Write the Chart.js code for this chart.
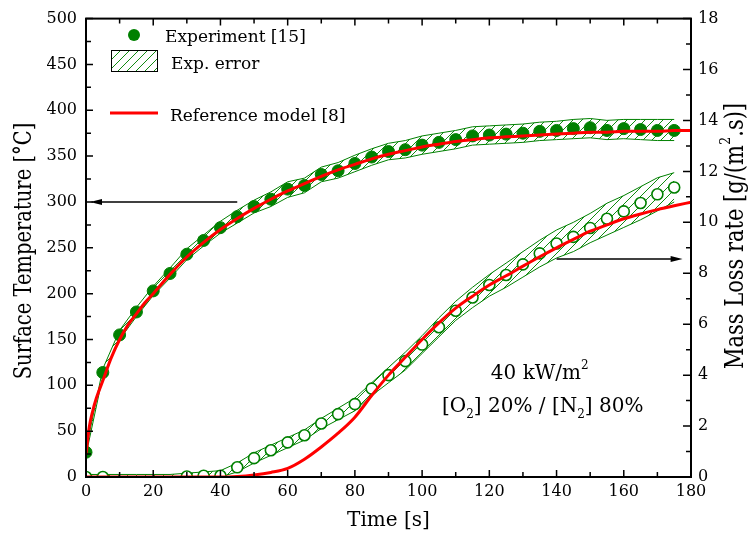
<!DOCTYPE html>
<html>
<head>
<meta charset="utf-8">
<title>Surface temperature and mass loss rate</title>
<script src="https://cdn.jsdelivr.net/npm/chart.js@4.4.1/dist/chart.umd.min.js"></script>
<style>
  html, body { margin: 0; padding: 0; background: #fff; }
  #wrap { width: 749px; height: 533px; }
</style>
</head>
<body>
<div id="wrap"><canvas id="chart" width="749" height="533"></canvas></div>
<script>
// measured points, every 5 s
const timeExp = [0, 5, 10, 15, 20, 25, 30, 35, 40, 45, 50, 55, 60, 65, 70, 75, 80, 85,
  90, 95, 100, 105, 110, 115, 120, 125, 130, 135, 140, 145, 150, 155, 160, 165, 170, 175];
const tempExp = [27, 114, 155, 180, 203, 222, 243, 258, 272, 284, 295, 303, 314, 318, 330, 334, 342, 349,
  355, 357, 362, 365, 368, 372, 373, 374, 375, 377, 378, 380, 381, 378, 380, 379, 378, 378];
const tempErrHigh = [30, 118, 160, 185, 208, 228, 249, 264, 279, 291, 302, 311, 322, 326, 338, 343, 351, 358,
  364, 367, 372, 375, 378, 382, 383, 384, 385, 387, 388, 390, 391, 389, 390, 390, 390, 390];
const tempErrLow = [24, 110, 150, 175, 198, 217, 237, 252, 266, 277, 288, 295, 305, 310, 322, 326, 333, 340,
  346, 348, 352, 355, 358, 362, 363, 364, 365, 367, 368, 369, 370, 368, 369, 368, 367, 367];
const mlrExp = [0, 0, null, null, null, null, 0.02, 0.05, 0.05, 0.38, 0.74, 1.05, 1.36, 1.64, 2.1, 2.47, 2.86, 3.47,
  4.0, 4.55, 5.2, 5.88, 6.53, 7.05, 7.54, 7.93, 8.35, 8.78, 9.17, 9.43, 9.78, 10.14, 10.43, 10.76, 11.1, 11.37];
const mlrErrHigh = [0.1, 0.1, 0.1, 0.1, 0.1, 0.1, 0.15, 0.2, 0.25, 0.55, 0.95, 1.25, 1.55, 1.85, 2.3, 2.7, 3.1, 3.7,
  4.3, 4.9, 5.55, 6.25, 6.9, 7.45, 7.95, 8.4, 8.85, 9.3, 9.7, 10.0, 10.35, 10.75, 11.05, 11.4, 11.75, 11.95];
const mlrErrLow = [0, 0, 0, 0, 0, 0, 0, 0, 0, 0.2, 0.55, 0.85, 1.15, 1.45, 1.9, 2.25, 2.6, 3.2,
  3.7, 4.2, 4.85, 5.5, 6.15, 6.65, 7.1, 7.45, 7.85, 8.25, 8.6, 8.85, 9.2, 9.5, 9.8, 10.1, 10.45, 10.8];

// reference model curves
const timeModel = [0, 1, 2, 3, 5, 7.5, 10, 12.5, 15, 17.5, 20, 25, 30, 35, 40, 45, 50, 55, 60, 65, 70, 75, 80, 85,
  90, 95, 100, 105, 110, 115, 120, 125, 130, 135, 140, 145, 150, 155, 160, 165, 170, 175, 180];
const tempModel = [25, 55, 72, 85, 105, 130, 150, 166, 178, 190, 200, 221, 240, 256, 270, 282, 293, 303, 312, 320, 328, 335, 341, 347,
  352, 356, 360, 363, 366, 368, 370, 371, 372, 373, 374, 375, 376, 376, 377, 377, 377, 378, 378];
const mlrModel = [0, 0, 0, 0, 0, 0, 0, 0, 0, 0, 0, 0, 0, 0, 0, 0.02, 0.08, 0.18, 0.34, 0.7, 1.18, 1.72, 2.35, 3.2,
  4.0, 4.7, 5.4, 6.05, 6.63, 7.1, 7.54, 7.9, 8.28, 8.65, 9.0, 9.33, 9.65, 9.9, 10.14, 10.33, 10.5, 10.65, 10.79];

const GREEN = '#008000';
const RED = '#ff0000';
const SERIF = '"DejaVu Serif", serif';

function pts(xs, ys) {
  return xs.map((t, i) => ({ x: t, y: ys[i] }));
}

// diagonal hatch used for the error bands
function hatchPattern() {
  const c = document.createElement('canvas');
  c.width = 9; c.height = 9;
  const g = c.getContext('2d');
  g.strokeStyle = '#118a11';
  g.lineWidth = 1;
  g.beginPath();
  g.moveTo(0, 9); g.lineTo(9, 0);
  g.moveTo(-1, 1); g.lineTo(1, -1);
  g.moveTo(8, 10); g.lineTo(10, 8);
  g.stroke();
  return g.createPattern(c, 'repeat');
}
const hatch = hatchPattern();

// text with sub/superscript pieces: [text, shift] where shift is 'sup', 'sub' or undefined
function runsWidth(ctx, runs, size) {
  let w = 0;
  runs.forEach(([t, s]) => {
    ctx.font = (s ? Math.round(size * 0.62) : size) + 'px ' + SERIF;
    w += ctx.measureText(t).width;
  });
  return w;
}
function drawRuns(ctx, runs, x, y, size, align) {
  let cx = align === 'center' ? x - runsWidth(ctx, runs, size) / 2 : x;
  ctx.textAlign = 'left';
  ctx.textBaseline = 'alphabetic';
  runs.forEach(([t, s]) => {
    ctx.font = (s ? Math.round(size * 0.62) : size) + 'px ' + SERIF;
    const dy = s === 'sup' ? -size * 0.5 : s === 'sub' ? size * 0.28 : 0;
    ctx.fillText(t, cx, y + dy);
    cx += ctx.measureText(t).width;
  });
}

function arrow(ctx, x0, y0, x1, y1) {
  const dir = Math.sign(x1 - x0);
  ctx.beginPath();
  ctx.moveTo(x0, y0); ctx.lineTo(x1 - dir * 8, y1);
  ctx.stroke();
  ctx.beginPath();
  ctx.moveTo(x1, y1);
  ctx.lineTo(x1 - dir * 12, y1 - 3);
  ctx.lineTo(x1 - dir * 12, y1 + 3);
  ctx.closePath();
  ctx.fill();
}

const decor = {
  id: 'decor',
  afterDraw(chart) {
    const { ctx, chartArea: a, scales } = chart;
    const x = scales.x, y = scales.y, y1 = scales.y1;
    ctx.save();
    ctx.fillStyle = '#000';
    ctx.strokeStyle = '#000';

    // inward ticks on all four sides
    ctx.lineWidth = 1.5;
    ctx.beginPath();
    for (let v = 0; v <= 180; v += 10) {
      const px = x.getPixelForValue(v), len = v % 20 ? 5 : 7;
      ctx.moveTo(px, a.bottom); ctx.lineTo(px, a.bottom - len);
      ctx.moveTo(px, a.top); ctx.lineTo(px, a.top + len);
    }
    for (let v = 0; v <= 500; v += 25) {
      const py = y.getPixelForValue(v), len = v % 50 ? 5 : 7;
      ctx.moveTo(a.left, py); ctx.lineTo(a.left + len, py);
    }
    for (let v = 0; v <= 18; v += 1) {
      const py = y1.getPixelForValue(v), len = v % 2 ? 5 : 8;
      ctx.moveTo(a.right, py); ctx.lineTo(a.right - len, py);
    }
    ctx.stroke();

    // frame
    ctx.lineWidth = 2;
    ctx.strokeRect(a.left, a.top, a.right - a.left, a.bottom - a.top);

    // axis titles
    ctx.save();
    ctx.translate(31, 251);
    ctx.rotate(-Math.PI / 2);
    ctx.scale(1, 1.25);
    drawRuns(ctx, [['Surface Temperature [°C]']], 0, 0, 19.5, 'center');
    ctx.restore();

    ctx.save();
    ctx.translate(743, 236);
    ctx.rotate(-Math.PI / 2);
    ctx.scale(1, 1.2);
    drawRuns(ctx, [['Mass Loss rate [g/(m'], ['2', 'sup'], ['.s)]']], 0, 0, 21, 'center');
    ctx.restore();

    drawRuns(ctx, [['Time [s]']], (a.left + a.right) / 2, 526, 20, 'center');

    // arrows pointing to each curve's axis
    ctx.lineWidth = 1.5;
    const ya = y.getPixelForValue(300);
    arrow(ctx, x.getPixelForValue(45), ya, a.left + 4, ya);
    const yb = y1.getPixelForValue(8.56);
    arrow(ctx, x.getPixelForValue(140), yb, x.getPixelForValue(177.5), yb);

    // test conditions
    const cx = x.getPixelForValue(135);
    drawRuns(ctx, [['40 kW/m'], ['2', 'sup']], cx, y.getPixelForValue(114) + 7, 20, 'center');
    drawRuns(ctx, [['[O'], ['2', 'sub'], ['] 20% / [N'], ['2', 'sub'], ['] 80%']],
      cx + 3, y.getPixelForValue(78) + 7, 20, 'center');

    // legend
    ctx.fillStyle = GREEN;
    ctx.beginPath();
    ctx.arc(134, 35, 6, 0, Math.PI * 2);
    ctx.fill();
    ctx.fillStyle = hatch;
    ctx.fillRect(111, 50, 47, 22);
    ctx.strokeStyle = '#000';
    ctx.lineWidth = 1;
    ctx.strokeRect(111.5, 50.5, 46, 21);
    ctx.strokeStyle = RED;
    ctx.lineWidth = 3;
    ctx.beginPath();
    ctx.moveTo(110, 113); ctx.lineTo(158, 113);
    ctx.stroke();
    ctx.fillStyle = '#000';
    drawRuns(ctx, [['Experiment [15]']], 165, 42, 17, 'left');
    drawRuns(ctx, [['Exp. error']], 171, 69, 17, 'left');
    drawRuns(ctx, [['Reference model [8]']], 170, 121, 17, 'left');

    ctx.restore();
  }
};

const tickFont = { family: SERIF, size: 16 };

new Chart(document.getElementById('chart'), {
  type: 'line',
  data: {
    datasets: [
      { data: pts(timeExp, tempErrLow), yAxisID: 'y', borderColor: GREEN, borderWidth: 1,
        pointRadius: 0, fill: false, order: 2 },
      { data: pts(timeExp, tempErrHigh), yAxisID: 'y', borderColor: GREEN, borderWidth: 1,
        pointRadius: 0, fill: '-1', backgroundColor: hatch, order: 2 },
      { data: pts(timeExp, mlrErrLow), yAxisID: 'y1', borderColor: GREEN, borderWidth: 1,
        pointRadius: 0, fill: false, order: 2 },
      { data: pts(timeExp, mlrErrHigh), yAxisID: 'y1', borderColor: GREEN, borderWidth: 1,
        pointRadius: 0, fill: '-1', backgroundColor: hatch, order: 2 },
      { data: pts(timeModel, tempModel), yAxisID: 'y', borderColor: RED, borderWidth: 3,
        pointRadius: 0, cubicInterpolationMode: 'monotone', order: 0 },
      { data: pts(timeModel, mlrModel), yAxisID: 'y1', borderColor: RED, borderWidth: 3,
        pointRadius: 0, cubicInterpolationMode: 'monotone', order: 0 },
      { data: pts(timeExp, tempExp), yAxisID: 'y', showLine: false, pointRadius: 6,
        pointBackgroundColor: GREEN, pointBorderColor: GREEN, pointBorderWidth: 1, order: 1 },
      { data: pts(timeExp, mlrExp), yAxisID: 'y1', showLine: false, pointRadius: 5.5,
        pointBackgroundColor: '#fff', pointBorderColor: GREEN, pointBorderWidth: 1.6, order: 1 }
    ]
  },
  options: {
    responsive: false,
    animation: false,
    layout: { padding: { top: 15, left: 0, right: 0, bottom: 0 } },
    plugins: { legend: { display: false }, tooltip: { enabled: false } },
    scales: {
      x: {
        type: 'linear', min: 0, max: 180,
        ticks: { stepSize: 20, font: tickFont, color: '#000', padding: 5, maxRotation: 0 },
        grid: { display: false, drawTicks: false },
        border: { display: false },
        afterFit(s) { s.height = 56; }
      },
      y: {
        position: 'left', min: 0, max: 500,
        ticks: { stepSize: 50, font: tickFont, color: '#000', padding: 9 },
        grid: { display: false, drawTicks: false },
        border: { display: false },
        afterFit(s) { s.width = 86; }
      },
      y1: {
        position: 'right', min: 0, max: 18,
        ticks: { stepSize: 2, font: tickFont, color: '#000', padding: 7 },
        grid: { display: false, drawTicks: false },
        border: { display: false },
        afterFit(s) { s.width = 58; }
      }
    }
  },
  plugins: [decor]
});
</script>
</body>
</html>
